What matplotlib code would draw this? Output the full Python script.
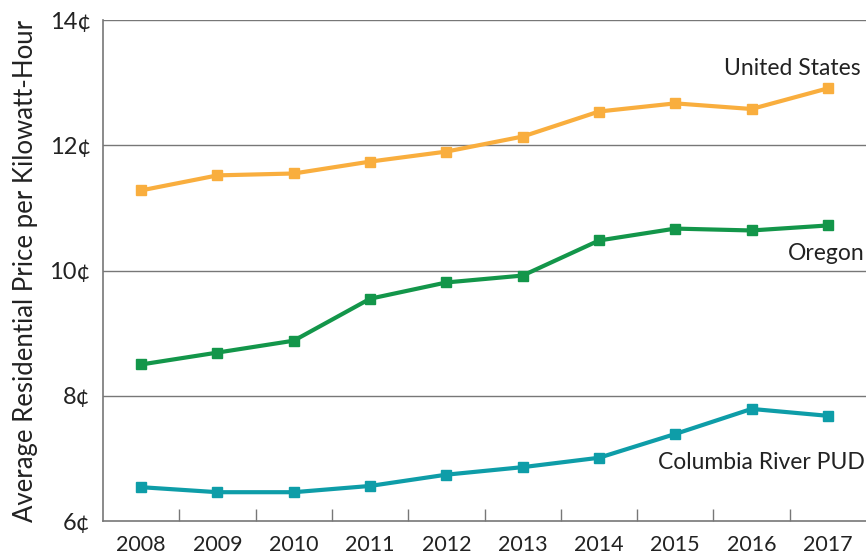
import matplotlib
matplotlib.use("Agg")
import matplotlib.pyplot as plt
from matplotlib.ticker import FixedLocator, NullFormatter

years = ["2008", "2009", "2010", "2011", "2012", "2013", "2014", "2015", "2016", "2017"]
us = [11.28, 11.52, 11.55, 11.74, 11.90, 12.14, 12.54, 12.67, 12.58, 12.91]
oregon = [8.50, 8.69, 8.88, 9.55, 9.81, 9.92, 10.48, 10.67, 10.64, 10.72]
columbia = [6.54, 6.46, 6.46, 6.56, 6.74, 6.86, 7.01, 7.39, 7.79, 7.68]
y_ticks = [6, 8, 10, 12, 14]
y_labels = ["6¢", "8¢", "10¢", "12¢", "14¢"]

plt.rcParams['font.family'] = ['Lato', 'DejaVu Sans']

fig = plt.figure(figsize=(8.66, 5.58), dpi=100)
ax = fig.add_axes([0.119, 0.0663, 0.881, 0.8977])

x = list(range(len(years)))
series = [
    (us, "#F9AE3E", "United States", 13.22, 9.43),
    (oregon, "#13964A", "Oregon", 10.27, 9.48),
    (columbia, "#0E9DA8", "Columbia River PUD", 6.94, 9.48),
]
for vals, col, name, ty, tx in series:
    ax.plot(x, vals, color=col, lw=3, marker="s", ms=7.5, zorder=3)
    ax.text(tx, ty, name, ha="right", va="center", fontsize=16.5, color="#222222")

ax.set_xlim(-0.5, 9.5)
ax.set_ylim(6, 14)
ax.set_yticks(y_ticks)
ax.set_yticklabels(y_labels, fontsize=17, color="#222222")
ax.tick_params(axis="y", length=0, pad=9)
for yv in y_ticks[1:]:
    ax.axhline(yv, color="#777777", lw=1, zorder=1)

# year labels sit in the middle of each bin, tick marks on the bin edges
ax.set_xticks(x)
ax.set_xticklabels(years, fontsize=15.5, color="#222222")
ax.tick_params(axis="x", which="major", length=0, pad=10)
ax.xaxis.set_minor_locator(FixedLocator([i + 0.5 for i in range(len(years) - 1)]))
ax.xaxis.set_minor_formatter(NullFormatter())
ax.tick_params(axis="x", which="minor", direction="in", length=9, width=1, color="#777777")

for s in ["top", "right"]:
    ax.spines[s].set_visible(False)
for s in ["left", "bottom"]:
    ax.spines[s].set_color("#777777")
    ax.spines[s].set_linewidth(1.2)

ax.set_ylabel("Average Residential Price per Kilowatt-Hour", fontsize=18.5, color="#222222", labelpad=8)

fig.savefig("out.png", dpi=100)
